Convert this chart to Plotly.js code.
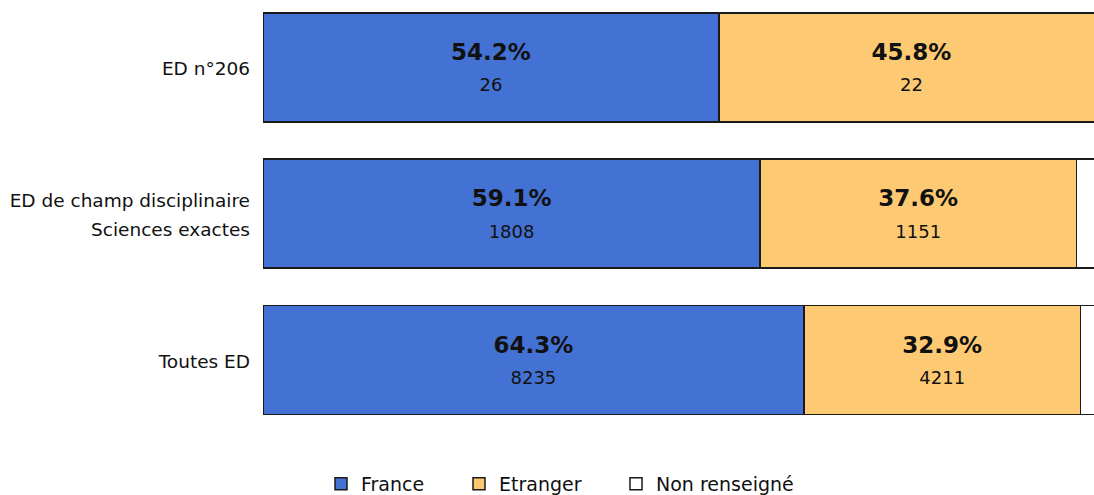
<!DOCTYPE html>
<html>
<head>
<meta charset="utf-8">
<script src="https://cdn.plot.ly/plotly-3.0.1.min.js"></script>
<style>
html,body{margin:0;padding:0;background:#fff;overflow:hidden;}
#chart{width:1094px;height:495px;}
</style>
</head>
<body>
<div id="chart"></div>
<script>
// Data
const categories = ["ED n°206", "ED de champ disciplinaire<br>Sciences exactes", "Toutes ED"];
const seriesNames = ["France", "Etranger", "Non renseigné"];
const pctFrance = [54.2, 59.1, 64.3];
const pctEtranger = [45.8, 37.6, 32.9];
const pctNonRens = [0.0, 3.3, 2.8];
const cntFrance = [26, 1808, 8235];
const cntEtranger = [22, 1151, 4211];
const cntNonRens = [0, 100, 361];

const colors = ["#4472D4", "#FDC972", "#FFFFFF"];
const font = "DejaVu Sans, Verdana, sans-serif";

function mkTrace(name, x, counts, color, legendId, showText) {
  return {
    type: "bar",
    orientation: "h",
    name: name,
    x: x,
    y: categories,
    customdata: counts,
    showlegend: true,
    marker: {color: color, line: {color: "#1a1a1a", width: 1.5}},
    texttemplate: showText ? "<span style='font-size:23px'><b>%{x:.1f}%</b></span><br><span style='font-size:18px'>%{customdata}</span>" : "",
    textposition: showText ? "inside" : "none",
    insidetextanchor: "middle",
    constraintext: "none",
    textfont: {family: font, size: 24, color: "#111"},
    legend: legendId,
    hoverinfo: "skip"
  };
}

const data = [
  mkTrace(seriesNames[0], pctFrance, cntFrance, colors[0], "legend", true),
  mkTrace(seriesNames[1], pctEtranger, cntEtranger, colors[1], "legend2", true),
  mkTrace(seriesNames[2], pctNonRens, cntNonRens, colors[2], "legend3", false)
];

const tickText = categories.map(c => c.split("<br>").map(s => "<span style='font-size:18.5px'>" + s + "</span>").join("<br>"));

const legendBase = {
  orientation: "h", xref: "container", yref: "container",
  xanchor: "left", yanchor: "middle", y: 1 - 484/495,
  font: {family: font, size: 19, color: "#111"},
  bgcolor: "rgba(0,0,0,0)", borderwidth: 0
};

const layout = {
  width: 1094, height: 495,
  margin: {l: 263, r: 0, t: 0, b: 62, pad: 0},
  paper_bgcolor: "#fff", plot_bgcolor: "#fff",
  showlegend: true,
  barmode: "stack",
  bargap: 0.255,
  font: {family: font, size: 18, color: "#111"},
  xaxis: {range: [0, 98.8], showticklabels: false, showgrid: false, zeroline: false, showline: false, ticks: "", fixedrange: true},
  yaxis: {
    type: "category", range: [2.5, -0.46],
    tickmode: "array", tickvals: categories, ticktext: tickText,
    tickfont: {family: font, size: 22, color: "#111"},
    ticks: "", ticklabelstandoff: 12,
    showgrid: false, zeroline: false, showline: false, fixedrange: true
  },
  legend: Object.assign({}, legendBase, {x: 321/1094}),
  legend2: Object.assign({}, legendBase, {x: 459/1094}),
  legend3: Object.assign({}, legendBase, {x: 616/1094})
};

Plotly.newPlot("chart", data, layout, {displayModeBar: false, staticPlot: true});
</script>
</body>
</html>
